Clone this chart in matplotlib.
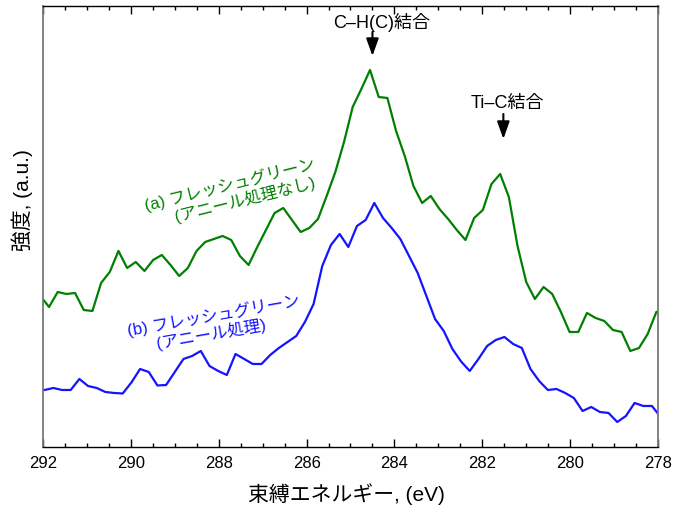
import numpy as np
import matplotlib
matplotlib.use('Agg')
import matplotlib.pyplot as plt
from matplotlib.ticker import MultipleLocator

plt.rcParams['font.family'] = ['Liberation Sans', 'Noto Sans CJK JP', 'DejaVu Sans']

# binding energy grid (eV) for each spectrum
energy_a = np.linspace(292.06, 277.84, 73)
energy_b = np.linspace(292.16, 277.94, 73)

# (a) fresh green, not annealed (a.u.)
intensity_a = [151, 140, 155, 153, 154, 137, 136, 164, 175, 196, 179, 185, 176, 187, 192,
               182, 171, 179, 196, 205, 208, 211, 207, 191, 182, 200, 217, 234, 239, 227,
               215, 219, 228, 251, 275, 305, 340, 358, 377, 350, 349, 316, 291, 261, 244,
               251, 238, 228, 217, 207, 229, 237, 263, 273, 250, 201, 165, 148, 160, 153,
               135, 115, 115, 134, 129, 126, 117, 115, 96, 99, 113, 135, 137]

# (b) fresh green, annealed (a.u.)
intensity_b = [57, 57, 59, 57, 57, 68, 61, 59, 55, 54, 53.5, 64.5, 78, 75, 61.5,
               62, 75, 88, 91, 96, 81, 76, 72, 93, 88, 83, 83, 92, 99, 105,
               111, 125, 143, 181, 202, 213, 200, 221, 227, 244, 229, 219, 208, 191, 174,
               151, 128, 116, 98, 85.5, 76, 88, 101, 107, 110, 103, 99, 78, 66, 57,
               58, 54, 49, 36, 40, 35, 34, 25, 31, 44, 41, 41, 30]

green = '#008000'
blue = '#1414ff'

fig = plt.figure(figsize=(6.75, 5.1), dpi=100)
ax = fig.add_axes([0.0637, 0.1216, 0.9111, 0.8647])

ax.plot(energy_a, intensity_a, color=green, lw=1.6)
ax.plot(energy_b, intensity_b, color=blue, lw=1.6)

ax.set_xlim(292, 278)
ax.set_ylim(0, 441)
ax.xaxis.set_major_locator(MultipleLocator(2))
ax.xaxis.set_minor_locator(MultipleLocator(0.5))
ax.tick_params(axis='x', which='both', direction='in', top=True, labelsize=12, pad=6)
ax.tick_params(axis='x', which='major', length=6, width=1)
ax.tick_params(axis='x', which='minor', length=3, width=1)
ax.set_yticks([])
for side in ['left', 'right']:
    ax.spines[side].set_color('#777777')
    ax.spines[side].set_linewidth(1.3)
for side in ['top', 'bottom']:
    ax.spines[side].set_linewidth(1.0)

ax.set_xlabel('束縛エネルギー, (eV)', fontsize=15)
ax.xaxis.set_label_coords(0.493, -0.079)
ax.set_ylabel('強度, (a.u.)', fontsize=15)
ax.yaxis.set_label_coords(-0.017, 0.562)

# peak annotations
arrow = dict(arrowstyle='-|>,head_length=0.7,head_width=0.25', color='black',
             lw=1.5, mutation_scale=15, shrinkA=0, shrinkB=0)
ax.annotate('', xy=(284.5, 391), xytext=(284.5, 415), arrowprops=arrow)
ax.text(284.28, 425, 'C–H(C)結合', fontsize=13, ha='center', va='center')
ax.annotate('', xy=(281.52, 308), xytext=(281.52, 333), arrowprops=arrow)
ax.text(281.43, 345, 'Ti–C結合', fontsize=13, ha='center', va='center')

# series labels
ax.text(287.74, 263, '(a) フレッシュグリーン', color=green, fontsize=12,
        rotation=14, ha='center', va='center', rotation_mode='anchor')
ax.text(287.40, 248.7, '(アニール処理なし)', color=green, fontsize=12,
        rotation=14, ha='center', va='center', rotation_mode='anchor')
ax.text(288.12, 132.3, '(b) フレッシュグリーン', color=blue, fontsize=12,
        rotation=10, ha='center', va='center', rotation_mode='anchor')
ax.text(288.18, 114, '(アニール処理)', color=blue, fontsize=12,
        rotation=10, ha='center', va='center', rotation_mode='anchor')

fig.savefig('out.png', dpi=100)
